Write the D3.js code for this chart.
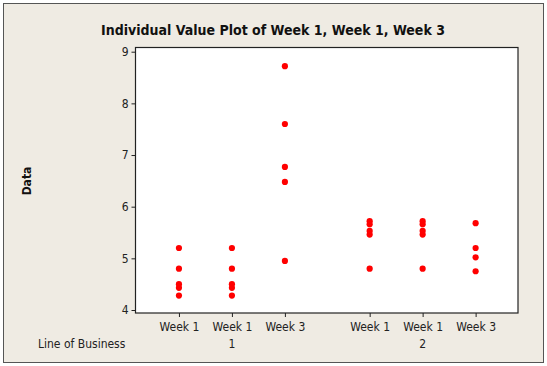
<!DOCTYPE html>
<html>
<head>
<meta charset="utf-8">
<script src="https://cdn.jsdelivr.net/npm/d3@7"></script>
<style>
  html, body { margin: 0; padding: 0; background: #fff; }
  svg { display: block; }
</style>
</head>
<body>
<script>
// columns (Line of Business x week) and their readings
var columns = ["Week 1", "Week 1", "Week 3", "Week 1", "Week 1", "Week 3"];
var business = [1, 1, 1, 2, 2, 2];
var slots = [0, 1, 2, 3.6, 4.6, 5.6];

var lob1Week1a = [5.2, 4.8, 4.5, 4.43, 4.28];
var lob1Week1b = [5.2, 4.8, 4.5, 4.43, 4.28];
var lob1Week3 = [8.72, 7.6, 6.77, 6.48, 4.95];
var lob2Week1a = [5.72, 5.66, 5.53, 5.46, 4.8];
var lob2Week1b = [5.72, 5.66, 5.53, 5.46, 4.8];
var lob2Week3 = [5.68, 5.2, 5.02, 4.75];

var yTicks = [4, 5, 6, 7, 8, 9];
var groupLabels = ["1", "2"];

var series = [lob1Week1a, lob1Week1b, lob1Week3, lob2Week1a, lob2Week1b, lob2Week3];

var w = 547, h = 366;
var font = "Tahoma, 'DejaVu Sans Condensed', 'DejaVu Sans', sans-serif";

var svg = d3.select("body").append("svg")
    .attr("width", w)
    .attr("height", h);

// beige panel with its frame
svg.append("rect")
    .attr("x", 0).attr("y", 0).attr("width", w).attr("height", h)
    .attr("fill", "#ffffff");
svg.append("rect")
    .attr("x", 3.5).attr("y", 3.5).attr("width", 540).attr("height", 359)
    .attr("fill", "#efebe3")
    .attr("stroke", "#555")
    .attr("stroke-width", 1);

var plot = {left: 135.5, right: 518, top: 47.5, bottom: 313};

var x = d3.scaleLinear().domain([-0.82, 6.4]).range([plot.left, plot.right]);
var y = d3.scaleLinear().domain([4, 9]).range([310, 51.7]);

svg.append("rect")
    .attr("x", plot.left).attr("y", plot.top)
    .attr("width", plot.right - plot.left).attr("height", plot.bottom - plot.top)
    .attr("fill", "#ffffff")
    .attr("stroke", "#222")
    .attr("stroke-width", 1.2);

// y axis
var yAxis = svg.append("g")
    .attr("transform", "translate(" + plot.left + ",0)")
    .call(d3.axisLeft(y).tickValues(yTicks).tickFormat(d3.format("d")).tickSize(4).tickPadding(3));
yAxis.select(".domain").remove();
yAxis.selectAll("line").attr("stroke", "#222");
yAxis.selectAll("text")
    .attr("font-family", font)
    .attr("font-size", 12)
    .attr("fill", "#222");

// x axis
var xAxis = svg.append("g")
    .attr("transform", "translate(0," + plot.bottom + ")")
    .call(d3.axisBottom(x).tickValues(slots).tickSize(4).tickPadding(5)
        .tickFormat(function(d, i) { return columns[i]; }));
xAxis.select(".domain").remove();
xAxis.selectAll("line").attr("stroke", "#222");
xAxis.selectAll("text")
    .attr("font-family", font)
    .attr("font-size", 12)
    .attr("fill", "#222");

// second row of category labels
svg.append("text")
    .attr("x", 38)
    .attr("y", 348)
    .attr("font-family", font)
    .attr("font-size", 12)
    .attr("fill", "#222")
    .text("Line of Business");

svg.selectAll("text.group")
    .data(groupLabels)
    .enter()
    .append("text")
    .attr("class", "group")
    .attr("x", function(d, i) { return x(slots[i * 3 + 1]); })
    .attr("y", 348)
    .attr("text-anchor", "middle")
    .attr("font-family", font)
    .attr("font-size", 12)
    .attr("fill", "#222")
    .text(function(d) { return d; });

// title
svg.append("text")
    .attr("x", 273)
    .attr("y", 35)
    .attr("text-anchor", "middle")
    .attr("font-family", font)
    .attr("font-weight", "bold")
    .attr("font-size", 14)
    .attr("fill", "#111")
    .text("Individual Value Plot of Week 1, Week 1, Week 3");

// y label
svg.append("text")
    .attr("transform", "translate(31,181) rotate(-90)")
    .attr("text-anchor", "middle")
    .attr("font-family", font)
    .attr("font-weight", "bold")
    .attr("font-size", 12)
    .attr("fill", "#111")
    .text("Data");

// points
series.forEach(function(vals, i) {
    svg.append("g").selectAll("circle")
        .data(vals)
        .enter()
        .append("circle")
        .attr("cx", x(slots[i]))
        .attr("cy", function(d) { return y(d); })
        .attr("r", 3.1)
        .attr("fill", "#ff0000");
});
</script>
</body>
</html>
